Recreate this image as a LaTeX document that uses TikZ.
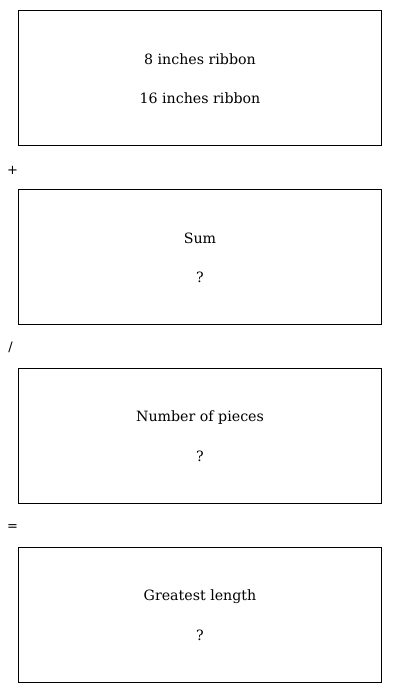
\documentclass[tikz,border=0pt]{standalone}
\usepackage{fontspec}
\newfontfamily\opfont{DejaVu Sans}
\newfontfamily\txtfont{DejaVu Serif}
\begin{document}
\begin{tikzpicture}[x=1pt,y=-1pt,
  panel/.style={draw=black,line width=1pt,minimum width=363pt,minimum height=135pt,anchor=north west,inner sep=0pt},
  label/.style={font=\txtfont\fontsize{14.2}{17}\selectfont,inner sep=0pt,anchor=center},
  op/.style={font=\opfont\fontsize{13}{15}\selectfont,inner sep=0pt,anchor=center}]
\useasboundingbox (0,0) rectangle (400,693);
\node[panel] (b1) at (18,10) {};
\node[panel] (b2) at (18,189) {};
\node[panel] (b3) at (18,368) {};
\node[panel] (b4) at (18,547) {};
\node[label] (t1a) at (200,59.5) {8 inches ribbon};
\node[label] (t1b) at (200,98.5) {16 inches ribbon};
\node[label] (t2a) at (200,238.5) {Sum};
\node[label] (t2b) at (200,277.5) {?};
\node[label] (t3a) at (200,417.5) {Number of pieces};
\node[label] (t3b) at (200,456.5) {?};
\node[label] (t4a) at (200,596.5) {Greatest length};
\node[label] (t4b) at (200,635.5) {?};
\node[op] (o1) at (12.5,170) {+};
\node[op] (o2) at (10.5,347) {/};
\node[op] (o3) at (12.5,528) {=};
\end{tikzpicture}
\end{document}
